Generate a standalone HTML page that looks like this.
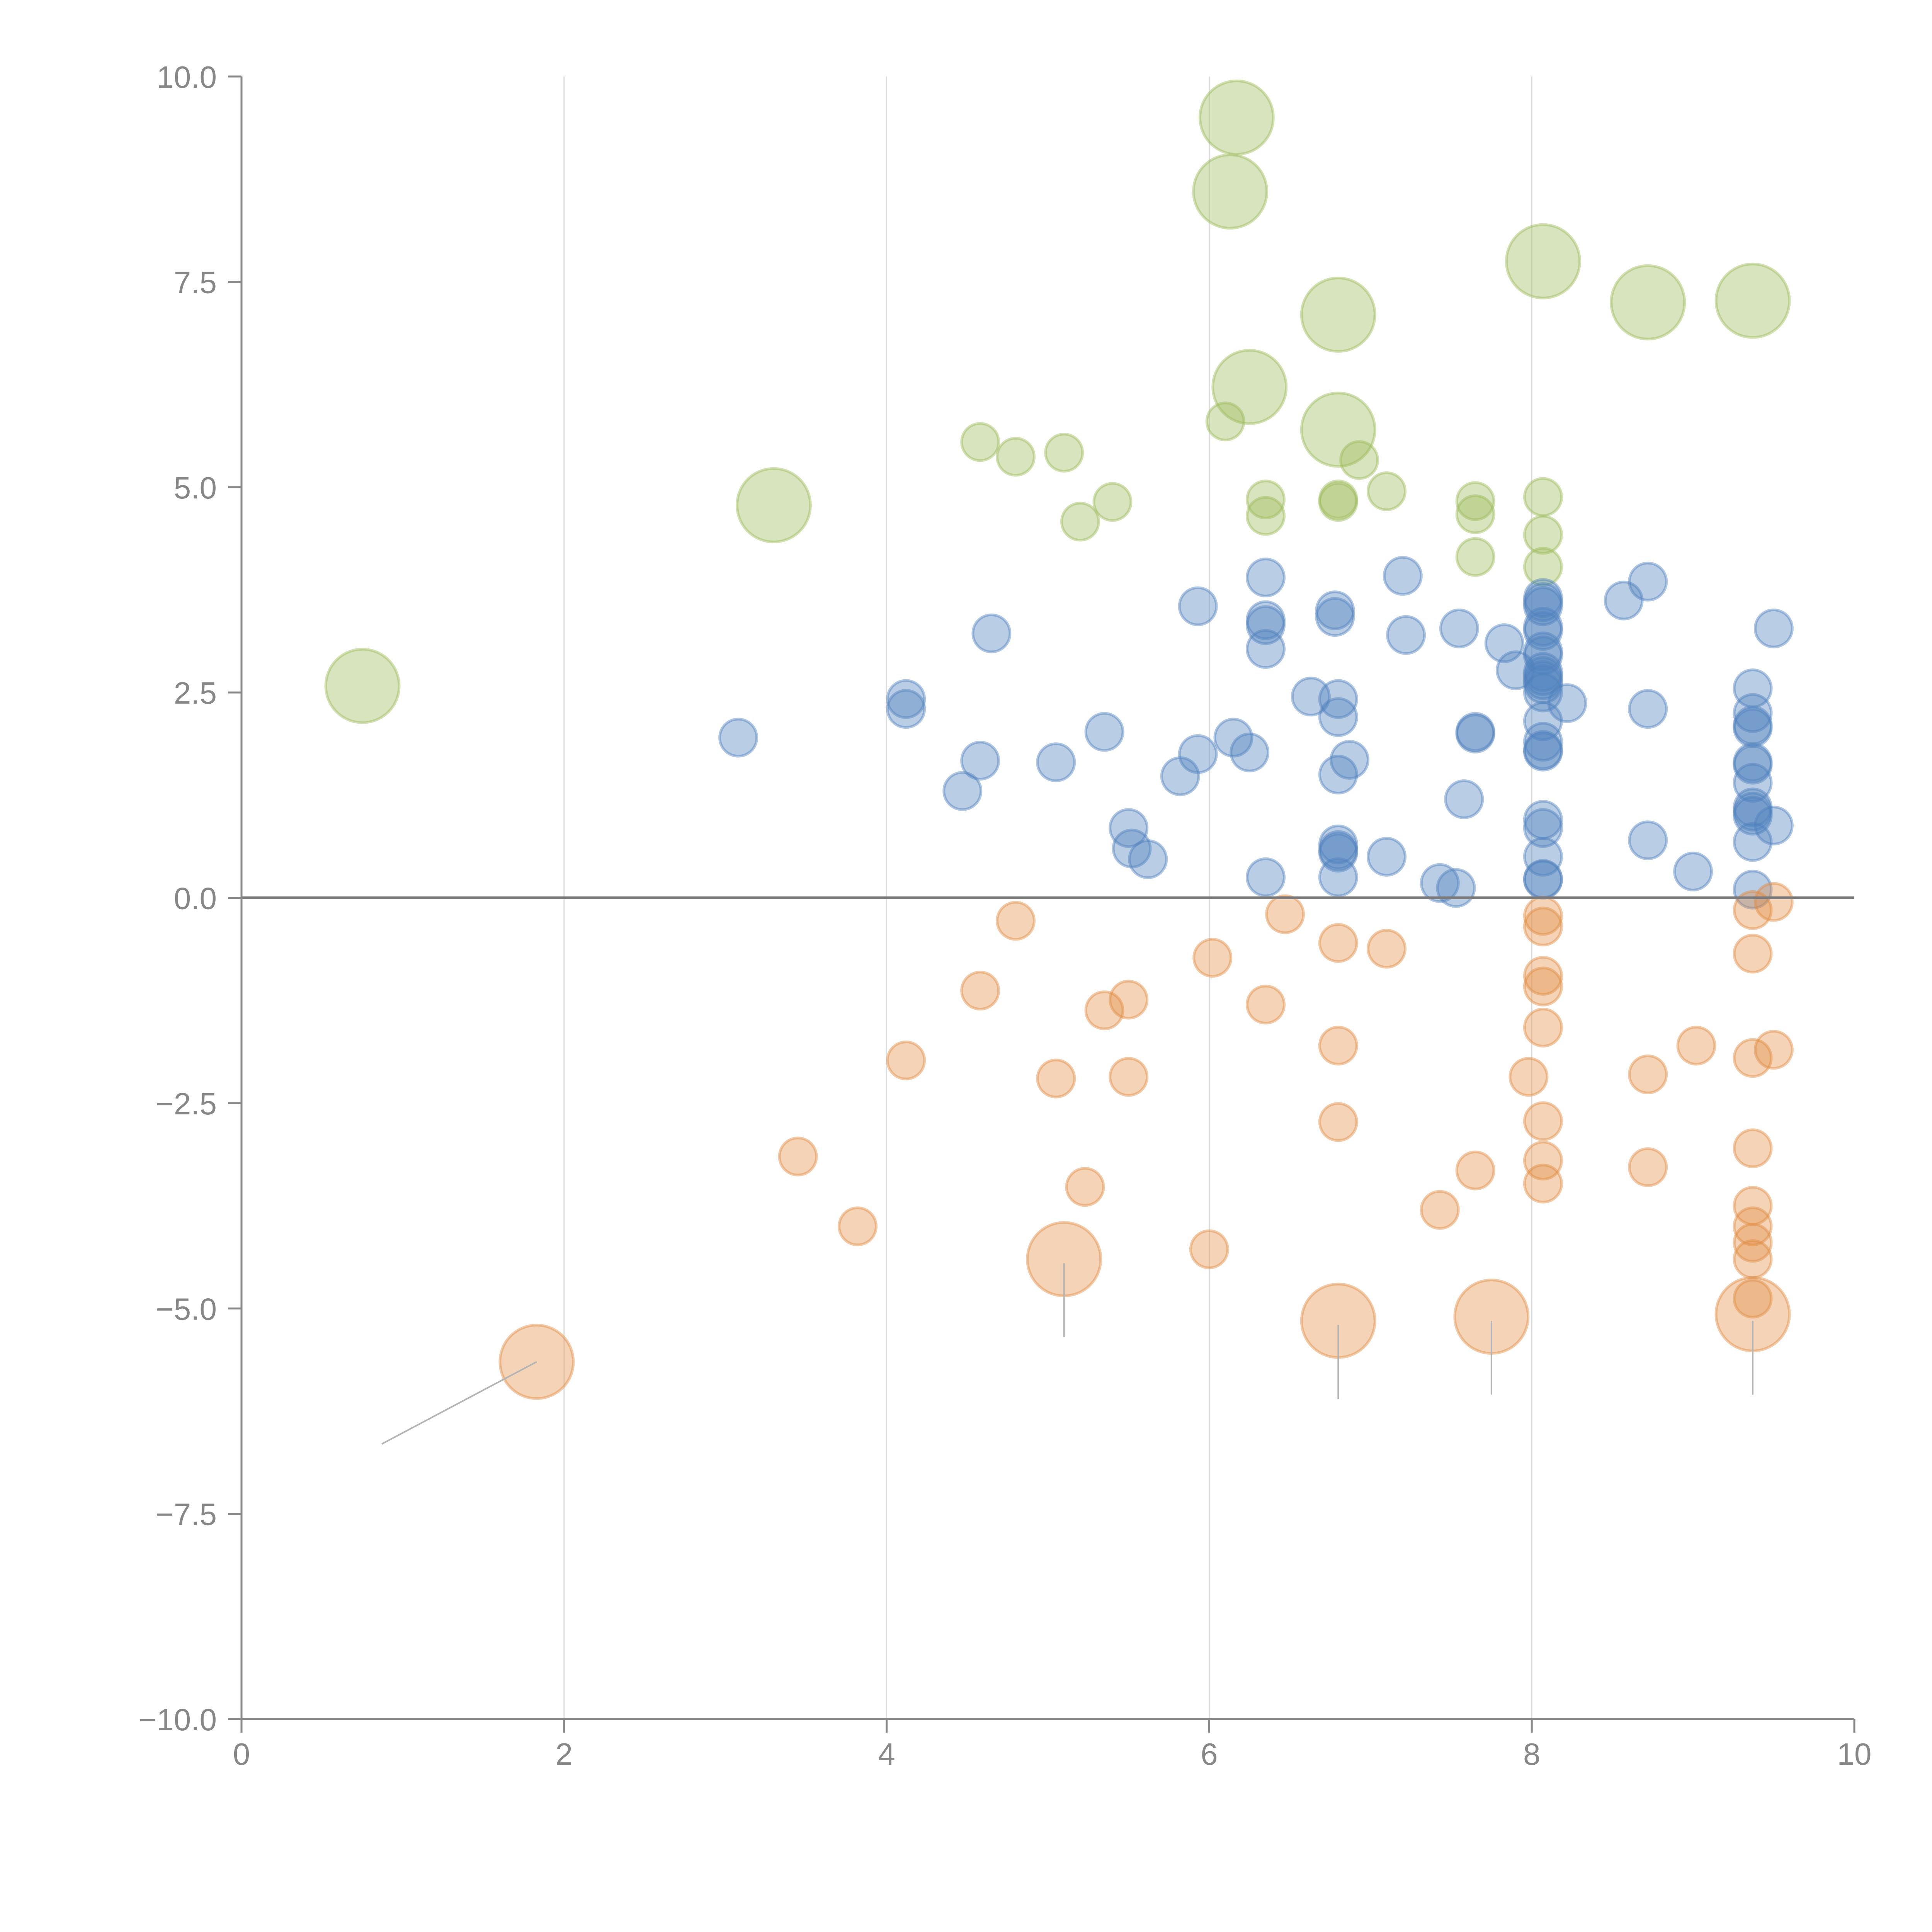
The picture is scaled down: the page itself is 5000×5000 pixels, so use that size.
<!DOCTYPE html>
<html><head><meta charset="utf-8"><style>
html,body{margin:0;padding:0;background:#fff;}
svg{display:block;}
text{font-family:"Liberation Sans",Arial,sans-serif;fill:#878787;font-size:80px;}
</style></head><body>
<svg id="chart" width="5000" height="5000" viewBox="0 0 5000 5000" xmlns="http://www.w3.org/2000/svg">
<g id="grid"></g>
<g id="marks"></g>
<g id="axes"></g>
</svg>
<script>
const xTicks=[0,2,4,6,8,10];
const yTicks=[10,7.5,5,2.5,0,-2.5,-5,-7.5,-10];
const yTickLabels=["10.0","7.5","5.0","2.5","0.0","\u22122.5","\u22125.0","\u22127.5","\u221210.0"];
const gridX=[2,4,6,8];

const greenBigX=[6.17,6.13,8.07,6.8,8.72,9.37,6.25,6.8,3.3,0.75];
const greenBigY=[9.5,8.6,7.75,7.1,7.25,7.27,6.22,5.7,4.78,2.58];
const greenX=[6.1,4.58,4.8,5.1,6.93,5.4,5.2,6.35,6.35,6.8,6.8,7.1,7.65,7.65,7.65,8.07,8.07,8.07];
const greenY=[5.8,5.55,5.37,5.42,5.33,4.82,4.58,4.85,4.65,4.85,4.82,4.95,4.83,4.67,4.15,4.88,4.42,4.03];

const blueX=[3.08,4.12,4.12,4.65,4.58,4.47,5.05,5.35,5.5,5.52,5.62,5.82,5.93,5.93,6.15,6.25,6.35,6.35,6.35,6.35,6.35,6.63,6.78,6.78,6.8,6.8,6.8,6.87,6.8,6.8,6.8,6.8,7.1,7.2,7.22,7.43,7.53,7.55,7.58,7.65,7.65,7.83,7.9,
8.07,8.07,8.07,8.07,8.07,8.07,8.07,8.07,8.07,8.07,8.07,8.07,8.07,8.07,8.07,8.07,8.07,8.07,8.07,8.07,8.07,
8.22,8.57,8.72,8.72,8.72,9.0,9.37,9.37,9.37,9.37,9.37,9.37,9.37,9.37,9.37,9.37,9.37,9.37,9.5,9.5];
const blueY=[1.95,2.42,2.3,3.22,1.67,1.3,1.65,2.02,0.85,0.6,0.47,1.48,1.75,3.55,1.95,1.77,3.9,3.38,3.32,3.03,0.25,2.45,3.5,3.42,2.42,2.2,1.5,1.68,0.65,0.58,0.55,0.25,0.5,3.92,3.2,0.18,0.12,3.28,1.2,2.02,2.0,3.1,2.77,
3.65,3.6,3.55,3.3,3.25,3.0,2.95,2.75,2.7,2.65,2.6,2.5,2.15,1.9,1.8,1.78,0.95,0.85,0.5,0.23,0.22,
2.37,3.62,3.85,2.3,0.7,0.32,2.55,2.25,2.1,2.07,1.65,1.62,1.4,1.1,1.05,1.0,0.68,0.1,3.28,0.88];

const orangeX=[4.8,6.47,6.02,6.8,7.1,4.58,5.5,5.35,6.35,4.12,5.05,5.5,6.8,6.8,3.45,3.82,5.23,6.0,7.43,7.65,7.98,
8.07,8.07,8.07,8.07,8.07,8.07,8.07,8.07,8.72,8.72,9.02,9.37,9.37,9.37,9.37,9.37,9.37,9.37,9.37,9.37,9.5,9.5];
const orangeY=[-0.28,-0.2,-0.73,-0.55,-0.62,-1.13,-1.24,-1.37,-1.3,-1.98,-2.2,-2.18,-1.8,-2.73,-3.15,-4.0,-3.52,-4.28,-3.8,-3.32,-2.18,
-0.22,-0.35,-0.95,-1.08,-1.58,-2.72,-3.2,-3.48,-2.15,-3.28,-1.8,-0.15,-0.68,-1.95,-3.05,-3.75,-4.0,-4.2,-4.4,-4.88,-0.05,-1.85];
const orangeBigX=[1.83,5.1,6.8,7.75,9.37];
const orangeBigY=[-5.65,-4.4,-5.15,-5.1,-5.07];
const leaderX1=[1.83,5.1,6.8,7.75,9.37];
const leaderY1=[-5.65,-4.45,-5.2,-5.15,-5.15];
const leaderX2=[0.87,5.1,6.8,7.75,9.37];
const leaderY2=[-6.65,-5.35,-6.1,-6.05,-6.05];

const X0=625,X1=4799,YT=198,YB=4449;
const sx=v=>X0+(v-0)/(10-0)*(X1-X0);
const sy=v=>YB-(v+10)/20*(YB-YT);
const NS="http://www.w3.org/2000/svg";
function mk(tag,attrs,parent){const e=document.createElementNS(NS,tag);for(const k in attrs)e.setAttribute(k,attrs[k]);parent.appendChild(e);return e;}
const grid=document.getElementById('grid'),marks=document.getElementById('marks'),axes=document.getElementById('axes');

gridX.forEach(v=>{
 const l=mk('line',{x1:sx(v),x2:sx(v),y1:YT,y2:YB,stroke:'#dcdcdc','stroke-width':3},grid);
 
 
});

function bubbles(xs,ys,r,fill,stroke,name){
 xs.forEach((x,i)=>{
  const c=mk('circle',{cx:sx(x),cy:sy(ys[i]),r:r,fill:fill,stroke:stroke,'stroke-width':7},marks);
  
  
 });
}
const gF='rgba(155,187,89,0.4)',gS='rgba(155,187,89,0.45)';
const bF='rgba(79,129,189,0.4)',bS='rgba(79,129,189,0.45)';
const oF='rgba(225,140,65,0.38)',oS='rgba(225,140,65,0.45)';
bubbles(greenBigX,greenBigY,95,gF,gS,'green-bubble-large');
bubbles(greenX,greenY,48,gF,gS,'green-bubble');
bubbles(blueX,blueY,48,bF,bS,'blue-bubble');
bubbles(orangeX,orangeY,48,oF,oS,'orange-bubble');
bubbles(orangeBigX,orangeBigY,95,oF,oS,'orange-bubble-large');
leaderX1.forEach((x,i)=>{
 const l=mk('line',{x1:sx(x),y1:sy(leaderY1[i]),x2:sx(leaderX2[i]),y2:sy(leaderY2[i]),stroke:'#b4b4b4','stroke-width':4},marks);
 
 
});

const z=mk('line',{x1:X0,x2:X1,y1:sy(0),y2:sy(0),stroke:'#7a7a7a','stroke-width':7},axes);


const ya=mk('line',{x1:X0,x2:X0,y1:YT,y2:YB,stroke:'#888','stroke-width':5},axes);


const xa=mk('line',{x1:X0,x2:X1,y1:YB,y2:YB,stroke:'#888','stroke-width':5},axes);


yTicks.forEach((v,i)=>{
 const t=mk('line',{x1:X0-35,x2:X0,y1:sy(v),y2:sy(v),stroke:'#888','stroke-width':5},axes);
 
 
 const tx=mk('text',{x:X0-64,y:sy(v)+29,'text-anchor':'end'},axes);
 tx.textContent=yTickLabels[i];
 
 
});
xTicks.forEach(v=>{
 const t=mk('line',{x1:sx(v),x2:sx(v),y1:YB,y2:YB+35,stroke:'#888','stroke-width':5},axes);
 
 
 const tx=mk('text',{x:sx(v),y:YB+118,'text-anchor':'middle'},axes);
 tx.textContent=String(v);
 
 
});
</script>
</body></html>
